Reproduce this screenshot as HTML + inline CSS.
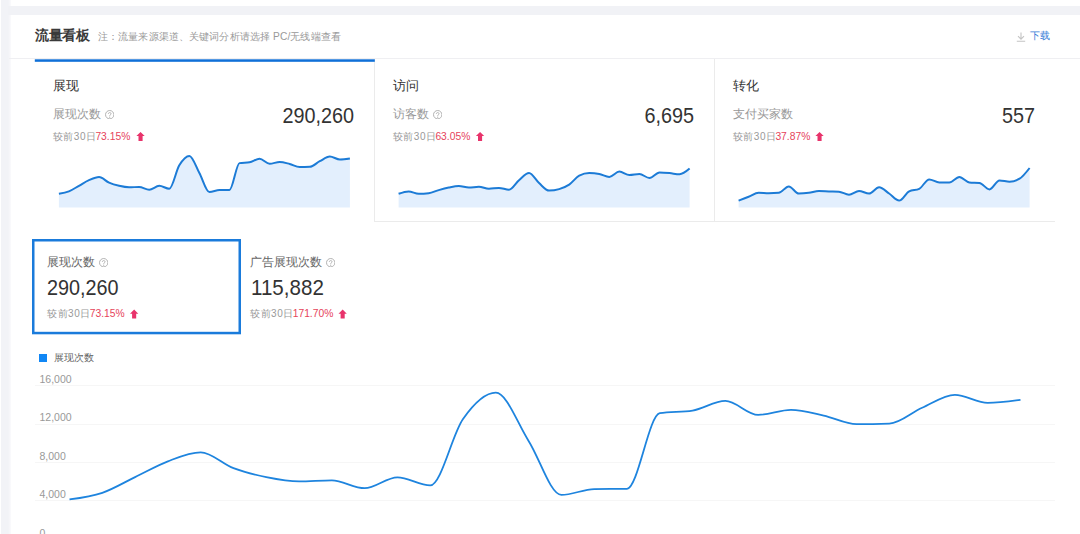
<!DOCTYPE html>
<html><head><meta charset="utf-8">
<style>
*{margin:0;padding:0;box-sizing:border-box}
html,body{width:1080px;height:534px;overflow:hidden;background:#fff}
body{position:relative;font-family:"Liberation Sans",sans-serif;color:#333}
.a{position:absolute;white-space:nowrap;line-height:1}
.lstrip{left:1px;top:0;width:10px;height:534px;background:linear-gradient(to right,#f2f3f7 0,#f2f3f7 70%,#f7f7fa 90%,#fbfbfd 100%)}
.tband{left:8px;top:5.5px;width:1072px;height:9px;background:#f1f2f6}
.hline{left:9px;top:58px;width:1071px;height:1px;background:#efeff2}
.title{left:35px;top:28.2px;font-size:14px;transform:scale(0.965);transform-origin:0 0;font-weight:bold;color:#3a3a3a}
.sub{left:98px;top:32.3px;font-size:10.2px;color:#999;letter-spacing:0.12px}
.dl{left:1029.8px;top:30.8px;font-size:10px;color:#3a7ed8}
.tab{top:59px;height:163px;width:340px}
.t1{left:35px}
.t2{left:374px;border-left:1px solid #ebebeb;border-bottom:1px solid #ebebeb}
.t3{left:714px;width:341px;border-left:1px solid #ebebeb;border-bottom:1px solid #ebebeb}
.tt{font-size:13.3px;color:#333}
.lbl{font-size:11.7px;color:#999}
.big{font-size:22px;color:#333;transform:scaleX(0.9);transform-origin:0 0}
.bigr{font-size:22px;color:#333;transform:scaleX(0.9);transform-origin:100% 0;text-align:right;width:100px}
.cmp{font-size:10px;color:#999;letter-spacing:0.55px}
.cmp b{font-weight:normal;color:#e6435a;font-size:10.3px;margin-left:-1.2px;letter-spacing:0}
.q{display:inline-block;width:9.4px;height:9.4px;vertical-align:-0.9px;margin-left:0.6px}

.lg{left:38.5px;top:354px;width:8px;height:8px;background:#1187f5}
.ax{font-size:10.5px;color:#999}

</style></head><body>
<div class="a lstrip"></div>
<div class="a tband"></div>
<div class="a hline"></div>
<div class="a title">流量看板</div>
<div class="a sub">注：流量来源渠道、关键词分析请选择 PC/无线端查看</div>
<svg class="a" style="left:1016px;top:32px" width="10" height="10" viewBox="0 0 10 10"><path d="M5 0.5V7M2 4.2L5 7.2L8 4.2M0.8 9.2H9.2" fill="none" stroke="#c4c4c4" stroke-width="1.1"/></svg>
<div class="a dl">下载</div>

<div class="a tab t1"></div>
<div class="a tab t2"></div>
<div class="a tab t3"></div>

<div class="a tt" style="left:53px;top:79.3px">展现</div>
<div class="a lbl" style="left:52.7px;top:108px">展现次数 <svg class="q" viewBox="0 0 10 10"><circle cx="5" cy="5" r="4.45" fill="none" stroke="#aaa" stroke-width="0.95"/><path d="M3.55 4C3.55 2.35 6.45 2.35 6.45 3.95C6.45 5.05 5 4.95 5 6.3" fill="none" stroke="#aaa" stroke-width="0.95"/><circle cx="5" cy="7.6" r="0.6" fill="#aaa"/></svg></div>
<div class="a bigr" style="left:254.3px;top:105px">290,260</div>
<div class="a cmp" style="left:52.7px;top:131.5px">较前30日<b>73.15%</b></div>

<div class="a tt" style="left:393px;top:79.3px">访问</div>
<div class="a lbl" style="left:392.7px;top:108px">访客数 <svg class="q" viewBox="0 0 10 10"><circle cx="5" cy="5" r="4.45" fill="none" stroke="#aaa" stroke-width="0.95"/><path d="M3.55 4C3.55 2.35 6.45 2.35 6.45 3.95C6.45 5.05 5 4.95 5 6.3" fill="none" stroke="#aaa" stroke-width="0.95"/><circle cx="5" cy="7.6" r="0.6" fill="#aaa"/></svg></div>
<div class="a bigr" style="left:594.3px;top:105px">6,695</div>
<div class="a cmp" style="left:392.7px;top:131.5px">较前30日<b>63.05%</b></div>

<div class="a tt" style="left:733px;top:79.3px">转化</div>
<div class="a lbl" style="left:732.7px;top:108px">支付买家数</div>
<div class="a bigr" style="left:934.8px;top:105px">557</div>
<div class="a cmp" style="left:732.7px;top:131.5px">较前30日<b>37.87%</b></div>

<svg class="a" style="left:0;top:0" width="1080" height="534">
<defs><path id="arr" d="M0 4.1L4.15 0L8.3 4.1H6.2V9H2.1V4.1Z" fill="#e8336b"/></defs>
<use href="#arr" x="136.4" y="131.9"/>
<use href="#arr" x="475.9" y="131.9"/>
<use href="#arr" x="815.4" y="131.9"/>
<use href="#arr" x="130" y="309.6"/>
<use href="#arr" x="338.5" y="309.6"/>
<path d="M58.90 193.68 C62.24 193.17 65.59 192.66 68.93 191.34 C72.28 190.03 75.62 187.64 78.97 185.78 C82.31 183.92 85.66 181.64 89.00 180.18 C92.35 178.72 95.69 177.03 99.04 177.03 C102.38 177.03 105.73 181.17 109.07 182.63 C112.42 184.09 115.76 185.00 119.11 185.78 C122.45 186.56 125.80 187.30 129.14 187.30 C132.49 187.30 135.83 186.95 139.18 186.95 C142.52 186.95 145.87 189.71 149.21 189.71 C152.56 189.71 155.90 185.85 159.24 185.85 C162.59 185.85 165.93 188.72 169.28 188.72 C172.62 188.72 175.97 170.67 179.31 165.20 C182.66 159.72 186.00 155.88 189.35 155.88 C192.69 155.88 196.04 166.92 199.38 172.96 C202.73 178.99 206.07 192.09 209.42 192.09 C212.76 192.09 216.11 190.10 219.45 190.03 C222.80 189.96 226.14 190.00 229.49 189.93 C232.83 189.86 236.18 163.76 239.52 163.14 C242.87 162.53 246.21 162.83 249.56 162.22 C252.90 161.61 256.24 158.78 259.59 158.78 C262.93 158.78 266.28 163.74 269.62 163.74 C272.97 163.74 276.31 161.97 279.66 161.97 C283.00 161.97 286.35 163.15 289.69 163.99 C293.04 164.84 296.38 167.04 299.73 167.04 C303.07 167.04 306.42 166.98 309.76 166.86 C313.11 166.74 316.45 162.93 319.80 161.23 C323.14 159.52 326.49 156.62 329.83 156.62 C333.18 156.62 336.52 159.46 339.87 159.46 C343.21 159.46 346.56 158.93 349.90 158.39 L349.90 207.50 L58.90 207.50 Z" fill="#e3effd"/>
<path d="M58.90 193.68 C62.24 193.17 65.59 192.66 68.93 191.34 C72.28 190.03 75.62 187.64 78.97 185.78 C82.31 183.92 85.66 181.64 89.00 180.18 C92.35 178.72 95.69 177.03 99.04 177.03 C102.38 177.03 105.73 181.17 109.07 182.63 C112.42 184.09 115.76 185.00 119.11 185.78 C122.45 186.56 125.80 187.30 129.14 187.30 C132.49 187.30 135.83 186.95 139.18 186.95 C142.52 186.95 145.87 189.71 149.21 189.71 C152.56 189.71 155.90 185.85 159.24 185.85 C162.59 185.85 165.93 188.72 169.28 188.72 C172.62 188.72 175.97 170.67 179.31 165.20 C182.66 159.72 186.00 155.88 189.35 155.88 C192.69 155.88 196.04 166.92 199.38 172.96 C202.73 178.99 206.07 192.09 209.42 192.09 C212.76 192.09 216.11 190.10 219.45 190.03 C222.80 189.96 226.14 190.00 229.49 189.93 C232.83 189.86 236.18 163.76 239.52 163.14 C242.87 162.53 246.21 162.83 249.56 162.22 C252.90 161.61 256.24 158.78 259.59 158.78 C262.93 158.78 266.28 163.74 269.62 163.74 C272.97 163.74 276.31 161.97 279.66 161.97 C283.00 161.97 286.35 163.15 289.69 163.99 C293.04 164.84 296.38 167.04 299.73 167.04 C303.07 167.04 306.42 166.98 309.76 166.86 C313.11 166.74 316.45 162.93 319.80 161.23 C323.14 159.52 326.49 156.62 329.83 156.62 C333.18 156.62 336.52 159.46 339.87 159.46 C343.21 159.46 346.56 158.93 349.90 158.39" fill="none" stroke="#1c7bd6" stroke-width="2"/>
<path d="M398.60 193.80 C401.94 192.60 405.29 191.40 408.63 191.40 C411.98 191.40 415.32 193.80 418.67 193.80 C422.01 193.80 425.36 193.60 428.70 193.20 C432.05 192.80 435.39 191.03 438.74 190.10 C442.08 189.17 445.43 188.27 448.77 187.60 C452.12 186.93 455.46 186.10 458.81 186.10 C462.15 186.10 465.50 187.60 468.84 187.60 C472.19 187.60 475.53 186.70 478.88 186.70 C482.22 186.70 485.57 188.80 488.91 188.80 C492.26 188.80 495.60 187.90 498.94 187.90 C502.29 187.90 505.63 189.70 508.98 189.70 C512.32 189.70 515.67 182.97 519.01 180.20 C522.36 177.43 525.70 173.10 529.05 173.10 C532.39 173.10 535.74 180.18 539.08 183.10 C542.43 186.02 545.77 190.60 549.12 190.60 C552.46 190.60 555.81 190.10 559.15 189.10 C562.50 188.10 565.84 186.83 569.19 184.60 C572.53 182.37 575.88 177.43 579.22 175.70 C582.57 173.97 585.91 173.10 589.26 173.10 C592.60 173.10 595.94 173.40 599.29 174.00 C602.63 174.60 605.98 176.90 609.32 176.90 C612.67 176.90 616.01 171.60 619.36 171.60 C622.70 171.60 626.05 175.00 629.39 175.00 C632.74 175.00 636.08 174.00 639.43 174.00 C642.77 174.00 646.12 178.00 649.46 178.00 C652.81 178.00 656.15 172.50 659.50 172.50 C662.84 172.50 666.19 172.80 669.53 173.10 C672.88 173.40 676.22 174.30 679.57 174.30 C682.91 174.30 686.26 171.45 689.60 168.60 L689.60 207.50 L398.60 207.50 Z" fill="#e3effd"/>
<path d="M398.60 193.80 C401.94 192.60 405.29 191.40 408.63 191.40 C411.98 191.40 415.32 193.80 418.67 193.80 C422.01 193.80 425.36 193.60 428.70 193.20 C432.05 192.80 435.39 191.03 438.74 190.10 C442.08 189.17 445.43 188.27 448.77 187.60 C452.12 186.93 455.46 186.10 458.81 186.10 C462.15 186.10 465.50 187.60 468.84 187.60 C472.19 187.60 475.53 186.70 478.88 186.70 C482.22 186.70 485.57 188.80 488.91 188.80 C492.26 188.80 495.60 187.90 498.94 187.90 C502.29 187.90 505.63 189.70 508.98 189.70 C512.32 189.70 515.67 182.97 519.01 180.20 C522.36 177.43 525.70 173.10 529.05 173.10 C532.39 173.10 535.74 180.18 539.08 183.10 C542.43 186.02 545.77 190.60 549.12 190.60 C552.46 190.60 555.81 190.10 559.15 189.10 C562.50 188.10 565.84 186.83 569.19 184.60 C572.53 182.37 575.88 177.43 579.22 175.70 C582.57 173.97 585.91 173.10 589.26 173.10 C592.60 173.10 595.94 173.40 599.29 174.00 C602.63 174.60 605.98 176.90 609.32 176.90 C612.67 176.90 616.01 171.60 619.36 171.60 C622.70 171.60 626.05 175.00 629.39 175.00 C632.74 175.00 636.08 174.00 639.43 174.00 C642.77 174.00 646.12 178.00 649.46 178.00 C652.81 178.00 656.15 172.50 659.50 172.50 C662.84 172.50 666.19 172.80 669.53 173.10 C672.88 173.40 676.22 174.30 679.57 174.30 C682.91 174.30 686.26 171.45 689.60 168.60" fill="none" stroke="#1c7bd6" stroke-width="2"/>
<path d="M738.60 200.60 C741.94 199.35 745.29 198.10 748.63 196.80 C751.98 195.50 755.32 192.80 758.67 192.80 C762.01 192.80 765.36 193.20 768.70 193.20 C772.05 193.20 775.39 193.07 778.74 192.80 C782.08 192.53 785.43 186.40 788.77 186.40 C792.12 186.40 795.46 193.50 798.81 193.50 C802.15 193.50 805.50 193.22 808.84 192.80 C812.19 192.38 815.53 191.00 818.88 191.00 C822.22 191.00 825.57 191.28 828.91 191.40 C832.26 191.52 835.60 191.50 838.94 191.70 C842.29 191.90 845.63 194.70 848.98 194.70 C852.32 194.70 855.67 190.90 859.01 190.90 C862.36 190.90 865.70 193.50 869.05 193.50 C872.39 193.50 875.74 187.30 879.08 187.30 C882.43 187.30 885.77 191.28 889.12 193.50 C892.46 195.72 895.81 200.60 899.15 200.60 C902.50 200.60 905.84 192.97 909.19 191.30 C912.53 189.63 915.88 190.47 919.22 188.80 C922.57 187.13 925.91 179.40 929.26 179.40 C932.60 179.40 935.94 182.40 939.29 182.40 C942.63 182.40 945.98 182.40 949.32 182.40 C952.67 182.40 956.01 176.90 959.36 176.90 C962.70 176.90 966.05 182.07 969.39 182.40 C972.74 182.73 976.08 182.57 979.43 182.90 C982.77 183.23 986.12 189.40 989.46 189.40 C992.81 189.40 996.15 180.50 999.50 180.50 C1002.84 180.50 1006.19 181.70 1009.53 181.70 C1012.88 181.70 1016.22 180.70 1019.57 178.70 C1022.91 176.70 1026.26 172.35 1029.60 168.00 L1029.60 207.50 L738.60 207.50 Z" fill="#e3effd"/>
<path d="M738.60 200.60 C741.94 199.35 745.29 198.10 748.63 196.80 C751.98 195.50 755.32 192.80 758.67 192.80 C762.01 192.80 765.36 193.20 768.70 193.20 C772.05 193.20 775.39 193.07 778.74 192.80 C782.08 192.53 785.43 186.40 788.77 186.40 C792.12 186.40 795.46 193.50 798.81 193.50 C802.15 193.50 805.50 193.22 808.84 192.80 C812.19 192.38 815.53 191.00 818.88 191.00 C822.22 191.00 825.57 191.28 828.91 191.40 C832.26 191.52 835.60 191.50 838.94 191.70 C842.29 191.90 845.63 194.70 848.98 194.70 C852.32 194.70 855.67 190.90 859.01 190.90 C862.36 190.90 865.70 193.50 869.05 193.50 C872.39 193.50 875.74 187.30 879.08 187.30 C882.43 187.30 885.77 191.28 889.12 193.50 C892.46 195.72 895.81 200.60 899.15 200.60 C902.50 200.60 905.84 192.97 909.19 191.30 C912.53 189.63 915.88 190.47 919.22 188.80 C922.57 187.13 925.91 179.40 929.26 179.40 C932.60 179.40 935.94 182.40 939.29 182.40 C942.63 182.40 945.98 182.40 949.32 182.40 C952.67 182.40 956.01 176.90 959.36 176.90 C962.70 176.90 966.05 182.07 969.39 182.40 C972.74 182.73 976.08 182.57 979.43 182.90 C982.77 183.23 986.12 189.40 989.46 189.40 C992.81 189.40 996.15 180.50 999.50 180.50 C1002.84 180.50 1006.19 181.70 1009.53 181.70 C1012.88 181.70 1016.22 180.70 1019.57 178.70 C1022.91 176.70 1026.26 172.35 1029.60 168.00" fill="none" stroke="#1c7bd6" stroke-width="2"/>
<rect x="34.8" y="59.3" width="340" height="2.5" fill="#0f70d8"/>
<rect x="33.25" y="240.25" width="206.5" height="92.8" fill="none" stroke="#1a7bdb" stroke-width="2.5"/>
<rect x="35" y="385" width="1020" height="1" fill="#f6f6f6"/>
<rect x="35" y="424" width="1020" height="1" fill="#f6f6f6"/>
<rect x="35" y="462" width="1020" height="1" fill="#f6f6f6"/>
<rect x="35" y="500" width="1020" height="1" fill="#f6f6f6"/>
<path d="M69.50 499.40 C80.43 497.96 91.36 496.52 102.29 492.80 C113.22 489.08 124.16 482.35 135.09 477.10 C146.02 471.85 156.95 465.42 167.88 461.30 C178.81 457.18 189.74 452.40 200.67 452.40 C211.60 452.40 222.53 464.08 233.47 468.20 C244.40 472.32 255.33 474.90 266.26 477.10 C277.19 479.30 288.12 481.40 299.05 481.40 C309.98 481.40 320.91 480.40 331.84 480.40 C342.78 480.40 353.71 488.20 364.64 488.20 C375.57 488.20 386.50 477.30 397.43 477.30 C408.36 477.30 419.29 485.40 430.22 485.40 C441.16 485.40 452.09 434.45 463.02 419.00 C473.95 403.55 484.88 392.70 495.81 392.70 C506.74 392.70 517.67 423.87 528.60 440.90 C539.53 457.93 550.47 494.90 561.40 494.90 C572.33 494.90 583.26 489.30 594.19 489.10 C605.12 488.90 616.05 489.00 626.98 488.80 C637.91 488.60 648.84 414.93 659.78 413.20 C670.71 411.47 681.64 412.33 692.57 410.60 C703.50 408.87 714.43 400.90 725.36 400.90 C736.29 400.90 747.22 414.90 758.16 414.90 C769.09 414.90 780.02 409.90 790.95 409.90 C801.88 409.90 812.81 413.22 823.74 415.60 C834.67 417.98 845.60 424.20 856.53 424.20 C867.47 424.20 878.40 424.03 889.33 423.70 C900.26 423.37 911.19 412.62 922.12 407.80 C933.05 402.98 943.98 394.80 954.91 394.80 C965.84 394.80 976.78 402.80 987.71 402.80 C998.64 402.80 1009.57 401.30 1020.50 399.80" fill="none" stroke="#1e84de" stroke-width="1.8"/>
</svg>

<div class="a sel"></div>
<div class="a lbl" style="left:47px;top:256px;color:#666">展现次数 <svg class="q" viewBox="0 0 10 10"><circle cx="5" cy="5" r="4.45" fill="none" stroke="#aaa" stroke-width="0.95"/><path d="M3.55 4C3.55 2.35 6.45 2.35 6.45 3.95C6.45 5.05 5 4.95 5 6.3" fill="none" stroke="#aaa" stroke-width="0.95"/><circle cx="5" cy="7.6" r="0.6" fill="#aaa"/></svg></div>
<div class="a big" style="left:47px;top:277px;color:#333">290,260</div>
<div class="a cmp" style="left:47px;top:309.3px">较前30日<b>73.15%</b></div>

<div class="a lbl" style="left:250px;top:256px;color:#666">广告展现次数 <svg class="q" viewBox="0 0 10 10"><circle cx="5" cy="5" r="4.45" fill="none" stroke="#aaa" stroke-width="0.95"/><path d="M3.55 4C3.55 2.35 6.45 2.35 6.45 3.95C6.45 5.05 5 4.95 5 6.3" fill="none" stroke="#aaa" stroke-width="0.95"/><circle cx="5" cy="7.6" r="0.6" fill="#aaa"/></svg></div>
<div class="a big" style="left:250.5px;top:277px;color:#333;transform:scaleX(0.935)">115,882</div>
<div class="a cmp" style="left:250px;top:309.3px">较前30日<b>171.70%</b></div>

<div class="a lg"></div>
<div class="a ax" style="left:53.5px;top:353px;color:#666;font-size:10px">展现次数</div>
<div class="a ax" style="left:39.5px;top:374px">16,000</div>
<div class="a ax" style="left:39.5px;top:412px">12,000</div>
<div class="a ax" style="left:39.5px;top:451px">8,000</div>
<div class="a ax" style="left:39.5px;top:489px">4,000</div>
<div class="a ax" style="left:39.5px;top:528px">0</div>
</body></html>
